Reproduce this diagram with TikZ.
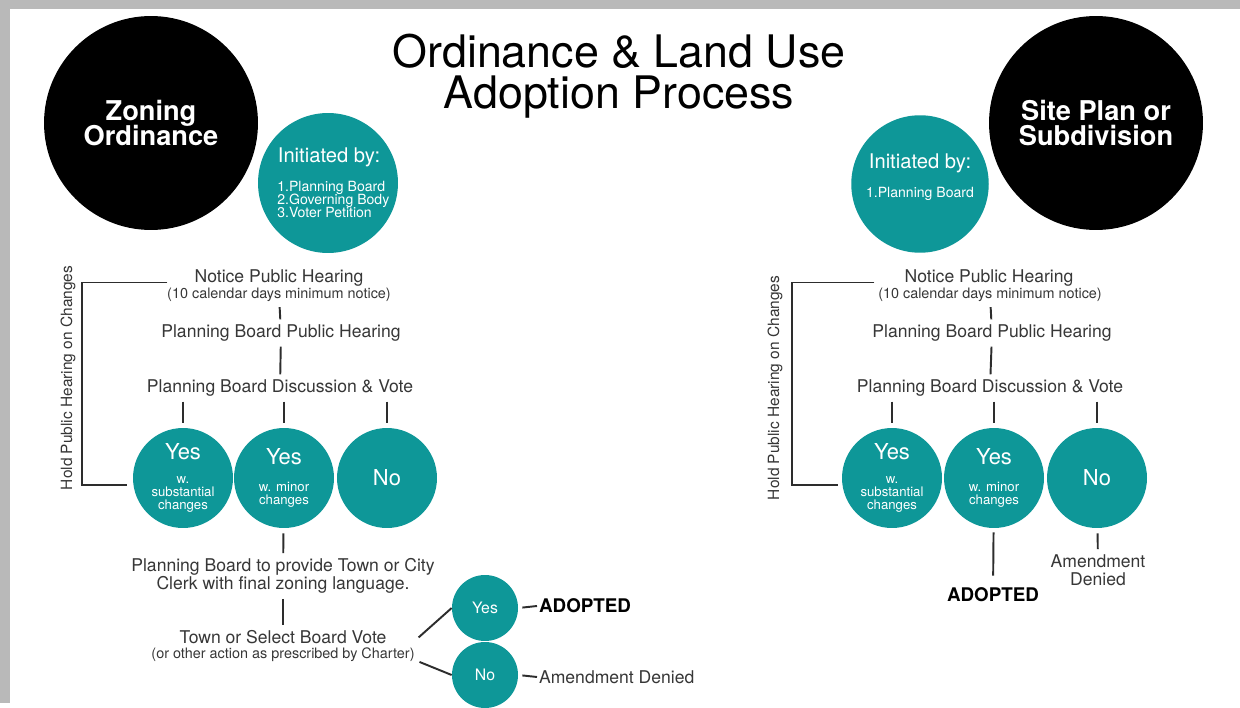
\documentclass[tikz,border=0pt]{standalone}
\usepackage{fontspec}
\setmainfont{TeX Gyre Heros}
\definecolor{tealc}{RGB}{14,151,152}
\definecolor{txtc}{RGB}{55,55,55}
\definecolor{linec}{RGB}{45,45,45}
\newcommand\fsz[2]{\fontsize{#1}{#2}\selectfont\lineskiplimit=-20pt\relax}

\begin{document}
\begin{tikzpicture}[x=0.02cm,y=-0.02cm,
  blk/.style={circle, fill=black, text=white, minimum size=4.28cm, inner sep=0pt, align=center, font=\bfseries\fsz{15.5}{14}},
  tl/.style={circle, fill=tealc, text=white, inner sep=0pt, align=center},
  txt/.style={text=txtc, inner sep=0pt, align=center, font=\fsz{10}{10.2}},
  sub/.style={text=txtc, inner sep=0pt, font=\fsz{8.2}{8.5}},
  ans/.style={tl, minimum size=2cm, font=\fsz{7.5}{7.4}},
  vote/.style={tl, minimum size=1.32cm, font=\fsz{9}{10}},
  ln/.style={draw=linec, line width=1.1pt},
  tick/.style={ln, shorten <=0.1cm, shorten >=0.1cm}]
\fill[gray!55] (0,0) rectangle (1240,703);
\fill[white] (10,9) rectangle (1240,703);

\path (619,76) node[font=\fsz{25.5}{23}, align=center, inner sep=0pt] (title) {Ordinance \& Land Use\\Adoption Process};

% zoning ordinance
\path (151,123) node[blk] (zon) {Zoning\\Ordinance}
(328,183) node[tl, minimum size=2.8cm] (initl) {}
(329,157) node[text=white, inner sep=0pt, font=\fsz{11.5}{12}] (initlt) {Initiated by:}
(277,199) node[text=white, anchor=west, align=left, inner sep=0pt, font=\fsz{8}{7.4}] (initll) {1.Planning Board\\2.Governing Body\\3.Voter Petition}
(279,278) node[txt] (notl) {Notice Public Hearing}
(279,295) node[sub] (notls) {(10 calendar days minimum notice)}
(281,333) node[txt] (pbhl) {Planning Board Public Hearing}
(280,388) node[txt] (pbvl) {Planning Board Discussion \& Vote}
(183,478) node[ans] (ysubl) {{\fsz{12.5}{13}Yes}\\[6.3pt]w.\\substantial\\changes}
(284,478) node[ans] (yminl) {{\fsz{12.5}{13}Yes}\\[7.5pt]w. minor\\changes}
(387,478) node[ans, font=\fsz{12.5}{13}] (nol) {No}
(68,378) node[txt, rotate=90, font=\fsz{8.8}{9}] (holdl) {Hold Public Hearing on Changes}
(283,576) node[txt] (clerk) {Planning Board to provide Town or City\\Clerk with final zoning language.}
(283,646) node[txt, font=\fsz{8.2}{8.5}] (townv) {{\fsz{10}{11}Town or Select Board Vote}\\(or other action as prescribed by Charter)}
(485,608) node[vote] (yes2) {Yes}
(485,675) node[vote] (no2) {No}
(537,606) node[anchor=west, inner sep=1pt, font=\bfseries\fsz{10.7}{11}] (adopl) {ADOPTED}
(537,677) node[txt, anchor=west, inner sep=1pt] (denl) {Amendment Denied};
\coordinate (bkl) at (82,282);

\draw[tick] (notls) -- (pbhl);
\draw[tick] (pbhl) -- (pbvl);
\draw[tick] (ysubl.north |- pbvl.south) -- (ysubl.north);
\draw[tick] (yminl.north |- pbvl.south) -- (yminl.north);
\draw[tick] (nol.north |- pbvl.south) -- (nol.north);
\draw[ln, shorten <=0.54cm, shorten >=0.12cm] (notl.base west) -| (bkl) |- (ysubl.188);
\draw[tick] (yminl) -- (clerk);
\draw[tick] (clerk) -- (townv);
\draw[ln, shorten <=0.1cm] ([yshift=3pt]townv.east) -- (yes2.west);
\draw[ln, shorten <=0.1cm] ([yshift=-8pt]townv.east) -- (no2.west);
\draw[ln, shorten <=0.08cm] (yes2.east) -- (adopl.west);
\draw[ln, shorten <=0.08cm] (no2.east) -- (denl.west);

% site plan or subdivision
\path (1096,123) node[blk] (site) {Site Plan or\\Subdivision}
(920,184) node[tl, minimum size=2.75cm] (initr) {}
(920,163) node[text=white, inner sep=0pt, font=\fsz{11.5}{12}] (initrt) {Initiated by:}
(920,194) node[text=white, inner sep=0pt, font=\fsz{8}{7.4}] (initrl) {1.Planning Board}
(989,278) node[txt] (notr) {Notice Public Hearing}
(990,295) node[sub] (notrs) {(10 calendar days minimum notice)}
(992,333) node[txt] (pbhr) {Planning Board Public Hearing}
(990,388) node[txt] (pbvr) {Planning Board Discussion \& Vote}
(892,478) node[ans] (ysubr) {{\fsz{12.5}{13}Yes}\\[6.3pt]w.\\substantial\\changes}
(994,478) node[ans] (yminr) {{\fsz{12.5}{13}Yes}\\[7.5pt]w. minor\\changes}
(1097,478) node[ans, font=\fsz{12.5}{13}] (nor) {No}
(775,388) node[txt, rotate=90, font=\fsz{8.8}{9}] (holdr) {Hold Public Hearing on Changes}
(993,595) node[inner sep=0pt, font=\bfseries\fsz{10.7}{11}] (adopr) {ADOPTED}
(1098,570) node[txt] (denr) {Amendment\\Denied};
\coordinate (bkr) at (792,282);

\draw[tick] (notrs) -- (pbhr);
\draw[tick] (pbhr) -- (pbvr);
\draw[tick] (ysubr.north |- pbvr.south) -- (ysubr.north);
\draw[tick] (yminr.north |- pbvr.south) -- (yminr.north);
\draw[tick] (nor.north |- pbvr.south) -- (nor.north);
\draw[ln, shorten <=0.6cm, shorten >=0.08cm] (notr.base west) -| (bkr) |- (ysubr.188);
\draw[ln, shorten <=0.08cm, shorten >=0.24cm] (yminr) -- (adopr);
\draw[tick] (nor) -- (denr);
\end{tikzpicture}
\end{document}
